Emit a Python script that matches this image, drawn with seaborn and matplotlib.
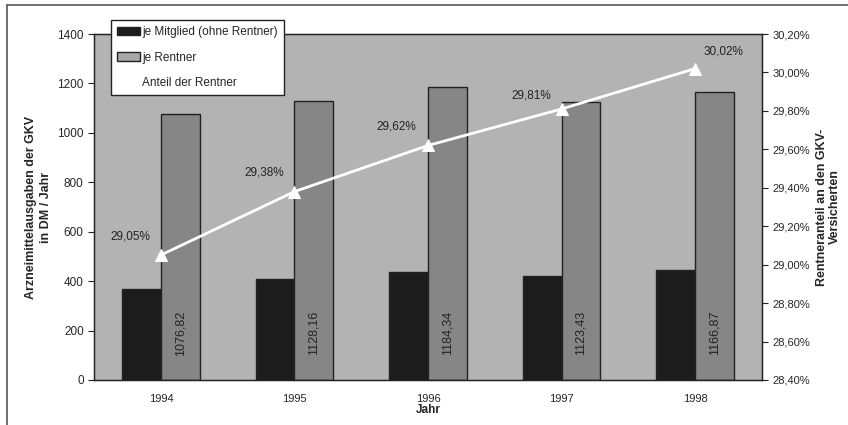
import numpy as np
import pandas as pd
import matplotlib.pyplot as plt
import seaborn as sns
from matplotlib.patches import Patch
from matplotlib.lines import Line2D

# chart data
years = ["1994", "1995", "1996", "1997", "1998"]
je_mitglied = [368, 409, 437, 421, 445]
je_rentner = [1076.82, 1128.16, 1184.34, 1123.43, 1166.87]
anteil = [29.05, 29.38, 29.62, 29.81, 30.02]
series_names = ["je Mitglied (ohne Rentner)", "je Rentner"]
line_name = "Anteil der Rentner"

def de(v, nd=2):
    return f"{v:.{nd}f}".replace(".", ",")

sns.set_style("white")
plt.rcParams["font.family"] = ["Liberation Sans", "DejaVu Sans"]

df = pd.DataFrame({
    "Jahr": years * 2,
    "Wert": je_mitglied + je_rentner,
    "Serie": [series_names[0]] * len(years) + [series_names[1]] * len(years),
})

fig = plt.figure(figsize=(8.48, 4.25), dpi=100)
ax = fig.add_axes([0.111, 0.106, 0.7876, 0.814])
ax.set_facecolor("#b3b3b3")

colors = ["#1c1c1c", "#868686"]
sns.barplot(data=df, x="Jahr", y="Wert", hue="Serie", palette=colors,
            width=0.58, edgecolor="#222222", linewidth=1.0, ax=ax, legend=False)

ax.set_ylim(0, 1400)
ax.set_yticks(range(0, 1401, 200))
ax.set_xlim(-0.5, len(years) - 0.5)
ax.set_xticks(range(len(years)))
ax.set_xticklabels(years)
ax.set_xticks(np.arange(-0.5, len(years)), minor=True)
ax.tick_params(axis="x", which="major", length=0, labelsize=8, pad=10)
ax.tick_params(axis="x", which="minor", length=4, direction="inout", color="#222222")
ax.tick_params(axis="y", length=4, labelsize=8.5, color="#222222", direction="out")
for s in ax.spines.values():
    s.set_color("#222222")
    s.set_linewidth(1.0)

ax.set_xlabel("Jahr", fontsize=8.5, fontweight="bold", labelpad=0)
ax.set_ylabel("Arzneimittelausgaben der GKV\nin DM / Jahr", fontsize=9,
              fontweight="bold", labelpad=4, linespacing=1.25)

# rotated value labels in the grey bars
for i, v in enumerate(je_rentner):
    ax.text(i + 0.145, 190, de(v), rotation=90, ha="center", va="center",
            fontsize=9, color="#222222")

# right axis with share of pensioners
ax2 = ax.twinx()
sns.lineplot(x=list(range(len(years))), y=anteil, ax=ax2, color="white",
             linewidth=2, marker="^", markersize=8, markeredgecolor="white")
ax2.set_ylim(28.40, 30.20)
ticks = np.round(np.arange(28.40, 30.21, 0.20), 2)
ax2.set_yticks(ticks)
ax2.set_yticklabels([de(t) + "%" for t in ticks])
ax2.tick_params(axis="y", length=4, labelsize=8, color="#222222", direction="out")
ax2.set_ylabel("Rentneranteil an den GKV-\nVersicherten", fontsize=9,
               fontweight="bold", labelpad=4, linespacing=1.15)
for s in ax2.spines.values():
    s.set_color("#222222")

offsets = [(-22, 13), (-22, 14), (-23, 14), (-22, 10), (20, 12)]
for i, (v, off) in enumerate(zip(anteil, offsets)):
    ax2.annotate(de(v) + "%", (i, v), xytext=off, textcoords="offset points",
                 ha="center", va="center", fontsize=8.5, color="#222222")

handles = [Patch(facecolor=colors[0], edgecolor="#222222"),
           Patch(facecolor="#a8a8a8", edgecolor="#222222"),
           Line2D([0], [0], color="white", lw=2)]
leg = fig.legend(handles, series_names + [line_name], loc="upper left",
                 bbox_to_anchor=(0.128, 0.958), fontsize=8.5, frameon=True,
                 fancybox=False, edgecolor="#222222", framealpha=1,
                 handlelength=2.0, handletextpad=0.15, borderpad=0.5,
                 labelspacing=1.15, borderaxespad=0.2)
leg.get_frame().set_linewidth(1.0)

# scanned page frame: only top and left edges show
fig.add_artist(Line2D([7 / 848, 1], [1 - 5 / 425] * 2, transform=fig.transFigure,
                      color="#555555", lw=1.2))
fig.add_artist(Line2D([7 / 848] * 2, [0, 1 - 5 / 425], transform=fig.transFigure,
                      color="#555555", lw=1.2))

fig.savefig("out.png", dpi=100)
